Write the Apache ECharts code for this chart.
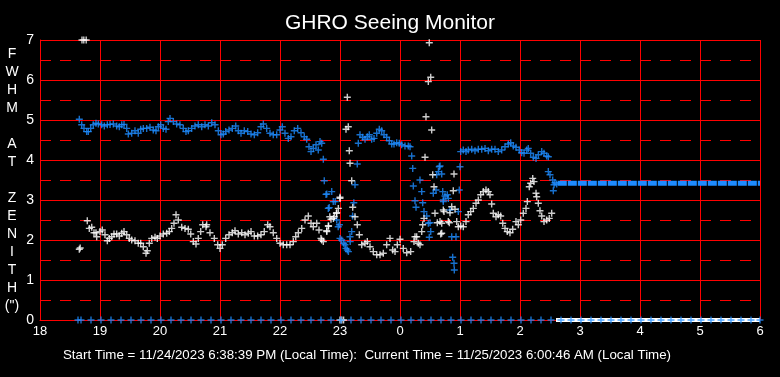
<!DOCTYPE html>
<html>
<head>
<meta charset="utf-8">
<script src="https://cdn.jsdelivr.net/npm/echarts@6/dist/echarts.min.js"></script>
<style>
  html, body { margin: 0; padding: 0; background: #000; }
  #chart { width: 780px; height: 377px; }
</style>
</head>
<body>
<div id="chart"></div>
<script>
// hours past midnight of the start day (24 = 00:00, 30 = 06:00)
const xTicks = [18, 19, 20, 21, 22, 23, 24, 25, 26, 27, 28, 29, 30];
const yTicks = [0, 1, 2, 3, 4, 5, 6, 7];

// blue FWHM readings [hour, arcsec]
const blueSeeing = [
  [18.655, 5.02], [18.695, 4.88], [18.733, 4.79], [18.778, 4.71], [18.805, 4.71], [18.845, 4.79],
  [18.888, 4.88], [18.933, 4.92], [18.972, 4.9], [19.028, 4.88], [19.072, 4.85], [19.122, 4.88],
  [19.167, 4.89], [19.222, 4.9], [19.278, 4.85], [19.322, 4.83], [19.362, 4.88], [19.4, 4.89],
  [19.445, 4.79], [19.472, 4.65], [19.528, 4.67], [19.583, 4.73], [19.638, 4.67], [19.678, 4.77],
  [19.722, 4.79], [19.778, 4.79], [19.833, 4.82], [19.888, 4.75], [19.933, 4.73], [19.972, 4.83],
  [20.012, 4.88], [20.055, 4.79], [20.1, 4.77], [20.138, 4.96], [20.167, 5.04], [20.222, 4.96],
  [20.278, 4.9], [20.333, 4.88], [20.388, 4.79], [20.433, 4.71], [20.472, 4.73], [20.528, 4.79],
  [20.583, 4.85], [20.638, 4.88], [20.695, 4.83], [20.75, 4.88], [20.805, 4.85], [20.862, 4.93],
  [20.917, 4.88], [20.972, 4.73], [21.017, 4.63], [21.055, 4.65], [21.095, 4.71], [21.15, 4.75],
  [21.205, 4.79], [21.262, 4.85], [21.305, 4.73], [21.35, 4.67], [21.405, 4.73], [21.462, 4.71],
  [21.517, 4.65], [21.572, 4.63], [21.628, 4.68], [21.683, 4.83], [21.722, 4.9], [21.778, 4.79],
  [21.833, 4.67], [21.888, 4.63], [21.945, 4.63], [22.0, 4.75], [22.038, 4.83], [22.083, 4.67],
  [22.138, 4.54], [22.183, 4.58], [22.238, 4.73], [22.295, 4.79], [22.35, 4.68], [22.405, 4.58],
  [22.445, 4.52], [22.483, 4.33], [22.517, 4.21], [22.555, 4.29], [22.6, 4.38], [22.638, 4.25],
  [22.667, 4.46], [22.695, 4.42], [22.722, 4.02], [22.738, 3.48], [22.767, 3.14], [22.78, 3.15],
  [22.805, 2.79], [22.82, 2.81], [22.862, 3.21], [22.888, 2.96], [22.92, 2.96], [22.945, 2.5],
  [22.97, 2.33], [22.99, 2.38], [23.0, 2.04], [23.028, 2.0], [23.06, 1.92], [23.083, 1.88],
  [23.1, 1.79], [23.122, 1.75], [23.14, 1.71], [23.167, 2.08], [23.17, 1.96], [23.195, 2.21],
  [23.21, 2.6], [23.23, 2.93], [23.25, 3.38], [23.288, 3.9],
  [23.305, 4.42], [23.333, 4.63], [23.378, 4.57], [23.417, 4.52], [23.455, 4.58], [23.488, 4.63],
  [23.528, 4.52], [23.567, 4.54], [23.612, 4.67], [23.655, 4.77], [23.695, 4.73], [23.733, 4.63],
  [23.778, 4.57], [23.822, 4.48], [23.862, 4.4], [23.9, 4.4], [23.945, 4.43], [23.988, 4.42],
  [24.028, 4.38], [24.083, 4.35], [24.138, 4.35], [24.167, 4.33],
  [24.195, 4.1], [24.212, 3.79], [24.222, 3.35], [24.25, 2.98], [24.267, 2.82], [24.333, 3.5],
  [24.362, 3.21], [24.378, 2.93], [24.4, 2.71], [24.445, 2.6], [24.5, 2.43], [24.472, 2.42],
  [24.512, 2.21], [24.488, 2.07], [24.555, 3.17], [24.6, 3.25], [24.612, 3.63], [24.64, 3.71],
  [24.655, 3.83], [24.667, 3.85], [24.695, 3.65], [24.712, 3.21], [24.722, 3.0], [24.75, 3.1],
  [24.788, 3.13], [24.805, 3.04], [24.722, 2.96], [24.833, 2.75], [24.862, 2.08], [24.878, 1.57],
  [24.9, 1.42], [24.905, 1.25], [24.933, 2.08], [24.972, 2.71], [24.988, 3.25], [25.0, 3.83],
  [25.012, 4.21], [25.055, 4.25], [25.1, 4.21], [25.138, 4.25], [25.195, 4.27], [25.25, 4.23],
  [25.305, 4.27], [25.362, 4.27], [25.417, 4.29], [25.472, 4.23], [25.528, 4.27], [25.583, 4.27],
  [25.638, 4.21], [25.695, 4.25], [25.75, 4.33], [25.805, 4.4], [25.845, 4.43], [25.888, 4.35],
  [25.933, 4.32], [25.988, 4.25], [26.028, 4.18], [26.067, 4.17], [26.112, 4.25], [26.138, 4.29],
  [26.178, 4.17], [26.222, 4.07], [26.267, 4.04], [26.305, 4.13], [26.362, 4.21], [26.4, 4.17],
  [26.445, 4.1], [26.472, 4.08],
  [26.472, 3.71], [26.5, 3.63], [26.545, 3.5], [26.555, 3.23], [26.567, 3.38], [26.583, 3.43],
  [26.612, 3.4]
];

// flat blue reading from 02:38 to 06:00
const blueFlat = [[26.63, 3.42], [30, 3.42]];

// white FWHM readings [hour, arcsec]
const whiteSeeing = [
  [18.7, 7], [18.73, 7], [18.77, 7],
  [18.655, 1.77], [18.67, 1.8], [18.788, 2.48], [18.822, 2.29], [18.862, 2.32], [18.9, 2.18],
  [18.933, 2.18], [18.945, 2.08], [19.0, 2.21], [19.038, 2.25], [19.083, 2.13], [19.122, 1.98],
  [19.155, 2.04], [19.195, 2.08], [19.233, 2.15], [19.278, 2.15], [19.322, 2.1], [19.362, 2.17],
  [19.4, 2.21], [19.445, 2.13], [19.488, 2.04], [19.528, 2.0], [19.583, 1.98], [19.638, 1.92],
  [19.678, 1.92], [19.722, 1.83], [19.767, 1.67], [19.788, 1.73], [19.822, 1.92], [19.862, 2.04],
  [19.917, 2.07], [19.955, 2.04], [20.0, 2.1], [20.055, 2.15], [20.112, 2.17], [20.155, 2.21],
  [20.195, 2.29], [20.233, 2.42], [20.267, 2.63], [20.305, 2.5], [20.362, 2.32], [20.417, 2.29],
  [20.472, 2.27], [20.512, 2.15], [20.555, 1.96], [20.6, 1.9], [20.638, 2.04], [20.678, 2.21],
  [20.712, 2.38], [20.767, 2.33], [20.778, 2.38], [20.833, 2.18], [20.905, 2.04], [20.962, 1.88],
  [21.0, 1.79], [21.038, 1.88], [21.095, 2.04], [21.15, 2.13], [21.205, 2.18], [21.25, 2.23],
  [21.305, 2.15], [21.362, 2.18], [21.417, 2.13], [21.472, 2.17], [21.517, 2.21], [21.572, 2.1],
  [21.628, 2.1], [21.683, 2.13], [21.738, 2.21], [21.795, 2.38], [21.833, 2.33], [21.888, 2.18],
  [21.945, 2.04], [22.0, 1.92], [22.055, 1.88], [22.112, 1.88], [22.167, 1.88], [22.222, 1.96],
  [22.262, 2.08], [22.305, 2.18], [22.362, 2.29], [22.417, 2.5], [22.472, 2.6], [22.517, 2.42],
  [22.555, 2.33], [22.612, 2.42], [22.65, 2.25], [22.683, 2.04], [22.695, 2.0], [22.722, 1.96],
  [22.778, 2.23], [22.78, 2.21], [22.805, 2.35], [22.81, 2.35], [22.83, 2.58], [22.85, 2.52],
  [22.89, 2.54], [22.905, 2.58], [22.94, 2.67], [22.945, 2.68], [22.972, 2.79], [23.0, 3.04],
  [23.0, 3.07],
  [23.0, 0], [23.03, 0], [23.06, 0],
  [23.1, 4.77], [23.122, 5.57], [23.138, 4.83], [23.155, 4.23], [23.167, 3.92], [23.195, 3.48],
  [23.212, 2.82], [23.25, 2.58], [23.288, 2.38], [23.322, 2.13], [23.362, 1.88], [23.417, 1.92],
  [23.455, 1.96], [23.5, 1.83], [23.555, 1.71], [23.612, 1.63], [23.667, 1.63], [23.722, 1.67],
  [23.778, 1.88], [23.833, 2.04], [23.878, 1.75], [23.917, 1.71], [23.955, 1.88], [24.0, 2.02],
  [24.055, 1.79], [24.112, 1.68], [24.178, 1.71], [24.233, 1.96], [24.25, 2.08], [24.278, 2.08],
  [24.305, 1.92], [24.333, 1.88], [24.362, 2.21], [24.378, 2.38], [24.4, 2.54],
  [24.417, 4.07], [24.433, 5.08], [24.472, 5.96], [24.488, 6.93], [24.512, 6.07], [24.528, 4.75],
  [24.545, 3.63], [24.567, 3.33], [24.583, 2.67], [24.622, 2.43], [24.667, 2.46], [24.678, 2.15],
  [24.695, 2.17], [24.695, 2.42], [24.722, 2.75], [24.733, 2.71], [24.805, 2.46], [24.822, 2.43],
  [24.833, 2.68], [24.862, 2.83], [24.888, 3.23], [24.9, 3.65], [24.917, 2.77], [24.945, 2.46],
  [24.972, 2.33],
  [25.012, 2.35], [25.055, 2.33], [25.1, 2.46], [25.138, 2.63], [25.178, 2.71], [25.222, 2.79],
  [25.267, 2.92], [25.305, 3.0], [25.345, 3.13], [25.388, 3.21], [25.433, 3.25], [25.472, 3.21],
  [25.5, 3.13], [25.528, 2.9], [25.555, 2.67], [25.6, 2.58], [25.638, 2.63], [25.678, 2.6],
  [25.712, 2.42], [25.75, 2.29], [25.788, 2.21], [25.833, 2.18], [25.878, 2.27], [25.933, 2.46],
  [25.972, 2.38], [26.012, 2.5], [26.055, 2.67], [26.1, 2.79], [26.122, 2.96], [26.155, 3.33],
  [26.178, 3.42], [26.212, 3.54], [26.233, 3.46], [26.267, 3.17], [26.278, 3.08], [26.305, 2.92],
  [26.333, 2.73], [26.362, 2.6], [26.4, 2.46], [26.445, 2.5], [26.488, 2.54], [26.528, 2.67]
];

// white zero readings from 02:36 to 06:00
const whiteZero = [[26.6, 0], [30, 0]];

// blue zero markers along the bottom (local clock time)
const blueZeroTimes = [
  '18:38', '18:41', '18:51',
  '19:01', '19:11', '19:21', '19:31', '19:41', '19:51',
  '20:01', '20:11', '20:21', '20:31', '20:41', '20:51',
  '21:01', '21:11', '21:21', '21:31', '21:41', '21:51',
  '22:01', '22:11', '22:21', '22:31', '22:41', '22:51',
  '23:01', '23:11', '23:21', '23:31', '23:41', '23:51',
  '00:01', '00:11', '00:21', '00:31', '00:41', '00:51',
  '01:01', '01:11', '01:21', '01:31', '01:41', '01:51',
  '02:01', '02:11', '02:21', '02:31', '02:41', '02:51',
  '03:01', '03:11', '03:21', '03:31', '03:41', '03:51',
  '04:01', '04:11', '04:21', '04:31', '04:41', '04:51',
  '05:01', '05:11', '05:21', '05:31', '05:41', '05:51', '06:00'
];

const titleText = 'GHRO Seeing Monitor';
const footerText = 'Start Time = 11/24/2023 6:38:39 PM (Local Time):  Current Time = 11/25/2023 6:00:46 AM (Local Time)';
const yAxisName = ['F', 'W', 'H', 'M', '', 'A', 'T', '', 'Z', 'E', 'N', 'I', 'T', 'H', '(")'];

const toHour = (t) => {
  const [h, m] = t.split(':').map(Number);
  return (h < 12 ? h + 24 : h) + m / 60;
};

const plus = 'path://M2.8,0h1.4v7h-1.4zM0,2.8h7v1.4h-7z';
const red = '#ff0000';
const blue = '#1e8cff';
const font = '"Liberation Sans", Arial, sans-serif';

const chart = echarts.init(document.getElementById('chart'));

chart.setOption({
  backgroundColor: '#000',
  animation: false,
  textStyle: { fontFamily: font },
  title: [
    {
      text: titleText,
      left: 'center',
      top: 8,
      textStyle: { color: '#fff', fontSize: 21, fontWeight: 'normal', fontFamily: font }
    },
    {
      text: footerText,
      left: 58,
      top: 344,
      textStyle: { color: '#fff', fontSize: 13.3, fontWeight: 'normal', fontFamily: font }
    }
  ],
  grid: { left: 40, right: 20, top: 40, bottom: 57 },
  xAxis: {
    type: 'value',
    min: xTicks[0],
    max: xTicks[xTicks.length - 1],
    interval: 1,
    axisLine: { lineStyle: { color: red, width: 1 } },
    axisTick: { show: false },
    axisLabel: {
      color: '#fff',
      fontSize: 13,
      margin: 5,
      formatter: (v) => String(v % 24)
    },
    splitLine: { show: true, lineStyle: { color: red, width: 1 } }
  },
  yAxis: {
    type: 'value',
    min: yTicks[0],
    max: yTicks[yTicks.length - 1],
    interval: 1,
    name: yAxisName.join('\n'),
    nameLocation: 'middle',
    nameRotate: 0,
    nameGap: 28,
    nameTextStyle: { color: '#fff', fontSize: 14, lineHeight: 18, align: 'center', verticalAlign: 'middle' },
    axisLine: { lineStyle: { color: red, width: 1 } },
    axisTick: { show: false },
    axisLabel: { color: '#fff', fontSize: 14, margin: 6 },
    splitLine: { show: true, lineStyle: { color: red, width: 1 } },
    minorTick: { show: false, splitNumber: 2 },
    minorSplitLine: { show: true, lineStyle: { color: red, width: 1, type: [11, 9] } }
  },
  series: [
    {
      type: 'line',
      data: whiteZero,
      symbol: 'none',
      lineStyle: { color: '#fff', width: 4 },
      z: 2
    },
    {
      type: 'line',
      data: blueFlat,
      symbol: 'none',
      lineStyle: { color: blue, width: 5, type: [9, 1] },
      z: 3
    },
    {
      type: 'scatter',
      data: blueSeeing,
      symbol: plus,
      symbolSize: 7,
      itemStyle: { color: blue },
      z: 3
    },
    {
      type: 'scatter',
      data: whiteSeeing,
      symbol: plus,
      symbolSize: 7,
      itemStyle: { color: '#fff' },
      z: 4
    },
    {
      type: 'scatter',
      data: blueZeroTimes.map((t) => [toHour(t), 0]),
      symbol: plus,
      symbolSize: 7,
      itemStyle: { color: blue },
      z: 5
    }
  ]
});
</script>
</body>
</html>
